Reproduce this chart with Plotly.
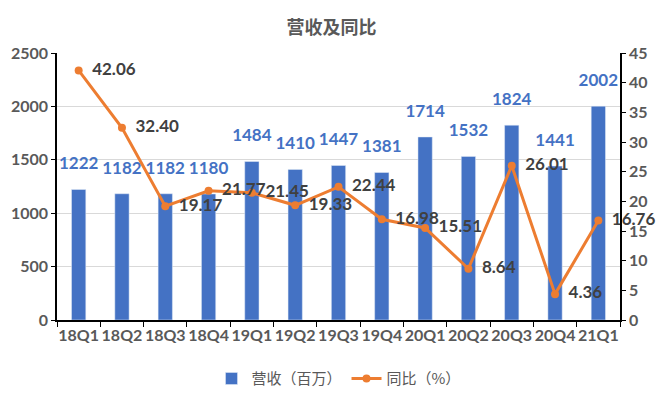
import plotly.graph_objects as go

categories = ["18Q1", "18Q2", "18Q3", "18Q4", "19Q1", "19Q2", "19Q3", "19Q4",
              "20Q1", "20Q2", "20Q3", "20Q4", "21Q1"]
revenue = [1222, 1182, 1182, 1180, 1484, 1410, 1447, 1381, 1714, 1532, 1824, 1441, 2002]
yoy = [42.06, 32.40, 19.17, 21.77, 21.45, 19.33, 22.44, 16.98, 15.51, 8.64, 26.01, 4.36, 16.76]

FONT = "Lato, 'Noto Sans CJK SC', sans-serif"
CJK = "'Noto Sans CJK SC', sans-serif"
GRAY = "#595959"
BLUE = "#4472C4"
ORANGE = "#ED7D31"

fig = go.Figure()
fig.add_trace(go.Bar(
    x=categories, y=revenue, name="营收（百万）",
    marker_color=BLUE, width=0.33, hoverinfo="x+y",
))
# revenue value labels above bars
fig.add_trace(go.Scatter(
    x=categories, y=revenue, mode="markers+text", showlegend=False,
    marker=dict(size=24, opacity=0), hoverinfo="skip",
    text=[str(v) for v in revenue], textposition="top center",
    textfont=dict(color=BLUE, size=17, family=FONT, weight="bold"),
    cliponaxis=False,
))
fig.add_trace(go.Scatter(
    x=categories, y=yoy, name="同比（%）", yaxis="y2",
    mode="lines+markers",
    line=dict(color=ORANGE, width=3),
    marker=dict(color=ORANGE, size=8),
    cliponaxis=False,
))
# yoy value labels to the right of points
fig.add_trace(go.Scatter(
    x=categories, y=yoy, yaxis="y2", mode="markers+text", showlegend=False,
    marker=dict(size=20, opacity=0), hoverinfo="skip",
    text=[f"{v:.2f}" for v in yoy], textposition="middle right",
    textfont=dict(color="#404040", size=17, family=FONT, weight="bold"),
    cliponaxis=False,
))

fig.update_layout(
    width=663, height=394,
    margin=dict(l=57, r=43, t=53, b=74, autoexpand=False),
    paper_bgcolor="white", plot_bgcolor="white",
    font=dict(family=FONT, color=GRAY),
    title=dict(text="营收及同比", x=0.5, xanchor="center", y=0.93, yanchor="middle",
               font=dict(size=18, color=GRAY, family=CJK, weight="bold")),
    showlegend=True,
    legend=dict(orientation="h", x=0.5, xanchor="center", y=-0.22, yanchor="middle",
                font=dict(size=15, color=GRAY, family=CJK)),
    bargap=0.5,
    xaxis=dict(type="category", range=[-0.5, len(categories) - 0.5],
               showline=True, linecolor="black", linewidth=1.5,
               ticks="outside", tickson="boundaries", ticklen=5, tickcolor="black",
               tickangle=0, automargin=False,
               tickfont=dict(size=16, color=GRAY, family=FONT, weight="bold")),
    yaxis=dict(range=[0, 2500], dtick=500, showline=True, linecolor="black", linewidth=1.5,
               ticks="outside", ticklen=4, tickcolor="black",
               gridcolor="#D9D9D9", zeroline=False, automargin=False,
               tickfont=dict(size=16, color=GRAY, family=FONT, weight="bold")),
    yaxis2=dict(range=[0, 45], dtick=5, overlaying="y", side="right",
                showline=True, linecolor="black", linewidth=1.5,
                ticks="outside", ticklen=4, tickcolor="black",
                showgrid=False, zeroline=False, automargin=False,
                tickfont=dict(size=16, color=GRAY, family=FONT, weight="bold")),
)

fig.write_html("out.html", config={"displayModeBar": False},
               post_script="document.body.style.margin='0';")
